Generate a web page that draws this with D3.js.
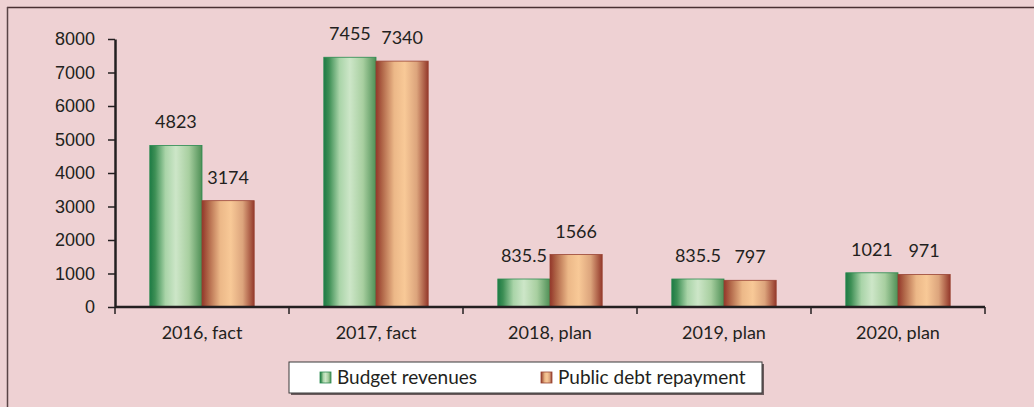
<!DOCTYPE html>
<html lang="en">
<head>
<meta charset="utf-8">
<title>Budget revenues and public debt repayment</title>
<script src="https://cdn.jsdelivr.net/npm/d3@7"></script>
<style>
  html, body { margin: 0; padding: 0; background: #eed1d3; }
  svg { display: block; font-family: Lato, "Open Sans", sans-serif; }
  .axis text { font-size: 18px; fill: #231f20; }
  .axis path, .axis line { stroke: #231f20; }
</style>
</head>
<body>
<div id="chart"></div>
<script>
  // values
  const categories = ['2016, fact', '2017, fact', '2018, plan', '2019, plan', '2020, plan'];
  const revenues = [4823, 7455, 835.5, 835.5, 1021];
  const repayment = [3174, 7340, 1566, 797, 971];
  const seriesNames = ['Budget revenues', 'Public debt repayment'];
  const yTicks = [0, 1000, 2000, 3000, 4000, 5000, 6000, 7000, 8000];

  const width = 1034, height = 407;
  const margin = { top: 39, left: 115, right: 49, bottom: 100 };
  const chartWidth = width - margin.left - margin.right;
  const chartHeight = height - margin.top - margin.bottom;

  const svg = d3.select('#chart').append('svg').attr('width', width).attr('height', height);

  // gradients for the cylinder look
  const defs = svg.append('defs');
  function gradient(id, stops) {
    const g = defs.append('linearGradient').attr('id', id)
      .attr('x1', 0).attr('x2', 1).attr('y1', 0).attr('y2', 0);
    stops.forEach(s => g.append('stop').attr('offset', s[0]).attr('stop-color', s[1]));
  }
  gradient('gGreen', [[0, '#1d7a44'], [0.1, '#3d8f55'], [0.3, '#a9d4a8'], [0.5, '#cde6c8'], [0.75, '#a8cfa0'], [1, '#4e8f55']]);
  gradient('gOrange', [[0, '#93372a'], [0.12, '#b06648'], [0.35, '#ecb888'], [0.55, '#f8c997'], [0.78, '#dca47c'], [1, '#94392b']]);
  const fills = ['url(#gGreen)', 'url(#gOrange)'];
  const strokes = ['#2a8a50', '#9a4433'];

  // frame lines (top and left)
  svg.append('line').attr('x1', 7).attr('x2', width).attr('y1', 7.5).attr('y2', 7.5)
    .attr('stroke', '#4a3032').attr('stroke-width', 1.5);
  svg.append('line').attr('x1', 7.5).attr('x2', 7.5).attr('y1', 7).attr('y2', height)
    .attr('stroke', '#5a4446').attr('stroke-width', 1.5);

  const x = d3.scaleBand().domain(categories).range([0, chartWidth]).paddingInner(0).paddingOuter(0);
  const inner = d3.scaleBand().domain([0, 1]).range([x.bandwidth() * 0.2, x.bandwidth() * 0.8]);
  const y = d3.scaleLinear().domain([0, 8000]).range([chartHeight, 0]);

  const g = svg.append('g').attr('transform', `translate(${margin.left},${margin.top})`);

  const rows = categories.map((c, i) => ({ cat: c, vals: [revenues[i], repayment[i]] }));

  const groups = g.selectAll('g.grp').data(rows).enter().append('g')
    .attr('class', 'grp')
    .attr('transform', d => `translate(${x(d.cat)},0)`);

  groups.selectAll('rect').data(d => d.vals.map((v, k) => ({ v, k }))).enter().append('rect')
    .attr('x', d => inner(d.k))
    .attr('y', d => y(d.v))
    .attr('width', inner.bandwidth())
    .attr('height', d => chartHeight - y(d.v))
    .attr('fill', d => fills[d.k])
    .attr('stroke', d => strokes[d.k])
    .attr('stroke-width', 0.8);

  groups.selectAll('text.val').data(d => d.vals.map((v, k) => ({ v, k }))).enter().append('text')
    .attr('class', 'val')
    .attr('x', d => inner(d.k) + inner.bandwidth() / 2)
    .attr('y', d => y(d.v) - 17)
    .attr('text-anchor', 'middle')
    .attr('font-size', 18)
    .attr('fill', '#231f20')
    .text(d => d.v);

  // y axis
  g.append('g').attr('class', 'axis')
    .call(d3.axisLeft(y).tickValues(yTicks).tickFormat(d3.format('d')).tickSize(7).tickPadding(13).tickSizeOuter(0))
    .call(a => a.select('.domain').attr('stroke-width', 2.5))
    .call(a => a.selectAll('.tick line').attr('stroke', '#555').attr('stroke-width', 1.5));

  // x axis with boundary ticks
  const xa = g.append('g').attr('class', 'axis').attr('transform', `translate(0,${chartHeight})`);
  xa.append('line').attr('x1', 0).attr('x2', chartWidth).attr('stroke', '#231f20').attr('stroke-width', 2.5);
  const bounds = categories.map(c => x(c)).concat([chartWidth]);
  xa.selectAll('line.b').data(bounds).enter().append('line').attr('class', 'b')
    .attr('x1', d => d).attr('x2', d => d).attr('y1', 0).attr('y2', 7)
    .attr('stroke', '#555').attr('stroke-width', 1.5);
  xa.selectAll('text').data(categories).enter().append('text')
    .attr('x', d => x(d) + x.bandwidth() / 2)
    .attr('y', 32)
    .attr('text-anchor', 'middle')
    .text(d => d);

  // legend
  const legend = svg.append('g').attr('transform', 'translate(289,362)');
  legend.append('rect').attr('x', 2).attr('y', 2).attr('width', 473).attr('height', 31).attr('fill', '#6a5a5c');
  legend.append('rect').attr('width', 473).attr('height', 31).attr('fill', '#fff')
    .attr('stroke', '#3a3a3a').attr('stroke-width', 1);
  const itemX = [31, 252];
  seriesNames.forEach((name, i) => {
    legend.append('rect').attr('x', itemX[i]).attr('y', 10).attr('width', 11).attr('height', 11)
      .attr('fill', fills[i]).attr('stroke', strokes[i]).attr('stroke-width', 0.8);
    legend.append('text').attr('x', itemX[i] + 17).attr('y', 22)
      .attr('font-size', 19).attr('fill', '#231f20').text(name);
  });
</script>
</body>
</html>
